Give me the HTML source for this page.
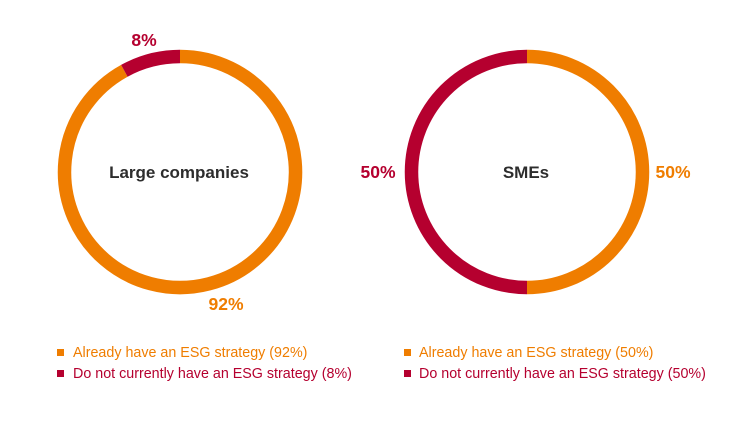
<!DOCTYPE html>
<html><head><style>
body{margin:0;background:#fff;width:754px;height:425px;overflow:hidden;font-family:"Liberation Sans",sans-serif}
</style></head><body>
<svg width="754" height="425" xmlns="http://www.w3.org/2000/svg" font-family="Liberation Sans, sans-serif">
<g fill="none" stroke-width="13.5">
<path d="M180,56.5 A115.5,115.5 0 1 1 124.35,70.8" stroke="#ef7d00"/>
<path d="M124.35,70.8 A115.5,115.5 0 0 1 180,56.5" stroke="#b5002f"/>
<path d="M527,56.5 A115.5,115.5 0 0 1 527,287.5" stroke="#ef7d00"/>
<path d="M527,287.5 A115.5,115.5 0 0 1 527,56.5" stroke="#b5002f"/>
</g>
<text x="179" y="178" text-anchor="middle" font-size="17" font-weight="bold" fill="#2d2d2d">Large companies</text>
<text x="526" y="178" text-anchor="middle" font-size="17" font-weight="bold" fill="#2d2d2d">SMEs</text>
<text x="144" y="46" text-anchor="middle" font-size="17.5" font-weight="bold" fill="#b5002f">8%</text>
<text x="226" y="310" text-anchor="middle" font-size="17.5" font-weight="bold" fill="#ef7d00">92%</text>
<text x="378" y="178" text-anchor="middle" font-size="17.5" font-weight="bold" fill="#b5002f">50%</text>
<text x="673" y="178" text-anchor="middle" font-size="17.5" font-weight="bold" fill="#ef7d00">50%</text>
<rect x="57" y="349" width="7" height="7" fill="#ef7d00"/>
<rect x="57" y="370" width="7" height="7" fill="#b5002f"/>
<rect x="404" y="349" width="7" height="7" fill="#ef7d00"/>
<rect x="404" y="370" width="7" height="7" fill="#b5002f"/>
<g font-size="14.3">
<text x="73" y="357" fill="#ef7d00">Already have an ESG strategy (92%)</text>
<text x="73" y="378" fill="#b5002f">Do not currently have an ESG strategy (8%)</text>
<text x="419" y="357" fill="#ef7d00">Already have an ESG strategy (50%)</text>
<text x="419" y="378" fill="#b5002f">Do not currently have an ESG strategy (50%)</text>
</g>
</svg>
</body></html>
